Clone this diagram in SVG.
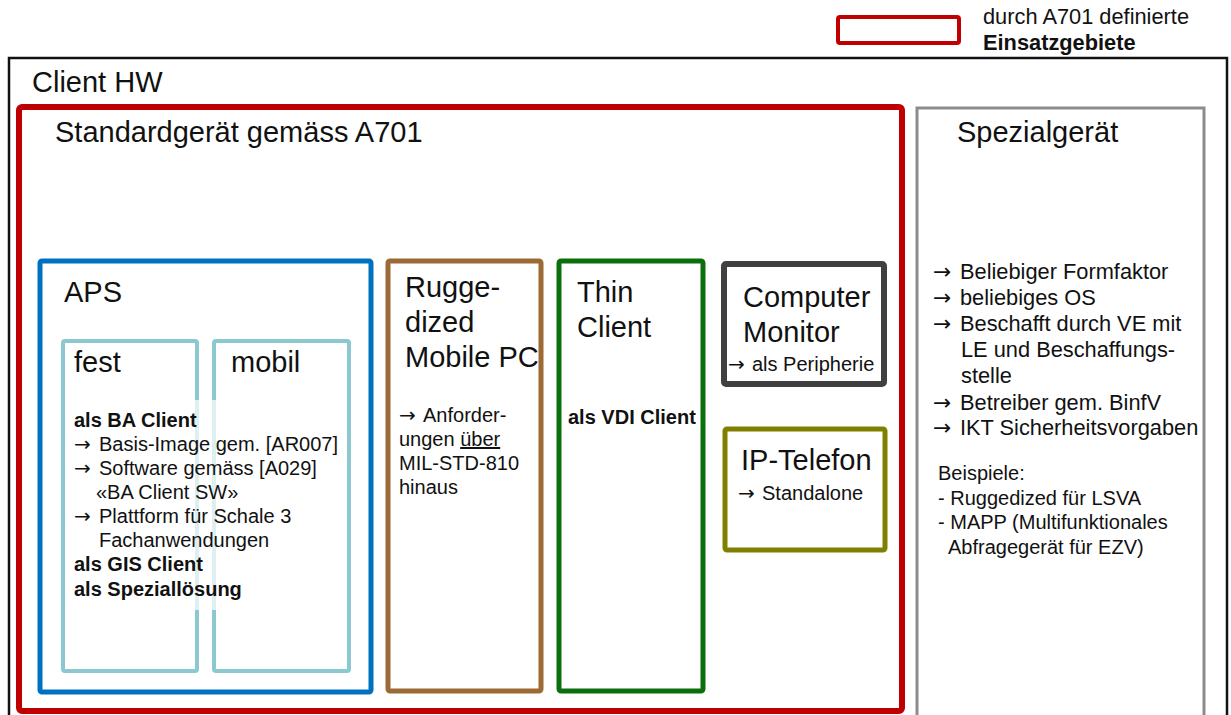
<svg xmlns="http://www.w3.org/2000/svg" width="1231" height="715" viewBox="0 0 1231 715">
  <style>
    text { font-family: "Liberation Sans", Arial, sans-serif; fill: #111; }
    .title { font-size: 29px; }
    .body { font-size: 20px; }
    .spec { font-size: 21.8px; }
    .legend { font-size: 21.8px; }
    .b { font-weight: bold; }
    .arr { font-family: "DejaVu Sans", sans-serif; }
    .box { fill: none; }
  </style>
  <rect width="1231" height="715" fill="#fff"/>

  <!-- legend -->
  <g id="legend">
    <rect x="838" y="17" width="121" height="26" rx="2" class="box" stroke="#C00000" stroke-width="4"/>
    <text class="legend" x="983" y="24">durch A701 definierte</text>
    <text class="legend b" x="983" y="50">Einsatzgebiete</text>
  </g>

  <!-- outer frame -->
  <g id="client-hw">
    <rect x="9" y="58" width="1218" height="670" class="box" stroke="#111" stroke-width="2.5"/>
    <text class="title" x="32" y="92">Client HW</text>
  </g>

  <g id="standardgeraet">
    <rect x="19" y="107" width="883" height="604" rx="3" class="box" stroke="#C00000" stroke-width="6"/>
    <text class="title" x="55" y="142">Standardgerät gemäss A701</text>
  </g>

  <g id="spezialgeraet">
    <rect x="917" y="108" width="287" height="620" class="box" stroke="#8C8C8C" stroke-width="3"/>
    <text class="title" x="957" y="142">Spezialgerät</text>
    <text class="spec" x="933" y="279"><tspan class="arr">→</tspan><tspan x="960">Beliebiger Formfaktor</tspan></text>
    <text class="spec" x="933" y="305"><tspan class="arr">→</tspan><tspan x="960">beliebiges OS</tspan></text>
    <text class="spec" x="933" y="331"><tspan class="arr">→</tspan><tspan x="960">Beschafft durch VE mit</tspan></text>
    <text class="spec" x="961" y="357">LE und Beschaffungs-</text>
    <text class="spec" x="961" y="383">stelle</text>
    <text class="spec" x="933" y="410"><tspan class="arr">→</tspan><tspan x="960">Betreiber gem. BinfV</tspan></text>
    <text class="spec" x="933" y="435"><tspan class="arr">→</tspan><tspan x="960">IKT Sicherheitsvorgaben</tspan></text>
    <text class="body" x="938" y="480">Beispiele:</text>
    <text class="body" x="938" y="505">- Ruggedized für LSVA</text>
    <text class="body" x="938" y="529">- MAPP (Multifunktionales</text>
    <text class="body" x="948" y="554">Abfragegerät für EZV)</text>
  </g>

  <g id="aps">
    <rect x="40" y="261" width="331" height="431" rx="2" class="box" stroke="#0070C0" stroke-width="5"/>
    <text class="title" x="64" y="302">APS</text>
  </g>

  <g id="fest">
    <rect x="63" y="341" width="134" height="330" rx="2" class="box" stroke="#8CC8D0" stroke-width="4"/>
    <text class="title" x="74" y="372">fest</text>
  </g>

  <g id="mobil">
    <rect x="214" y="341" width="135" height="330" rx="2" class="box" stroke="#8CC8D0" stroke-width="4"/>
    <text class="title" x="231" y="372">mobil</text>
  </g>

  <!-- shared APS description, on a translucent backing -->
  <g id="aps-text">
    <rect x="67" y="400" width="273" height="210" fill="#fff" fill-opacity="0.7"/>
    <text class="body b" x="74" y="427">als BA Client</text>
    <text class="body" x="74" y="451"><tspan class="arr">→</tspan><tspan x="99">Basis-Image gem. [AR007]</tspan></text>
    <text class="body" x="74" y="475"><tspan class="arr">→</tspan><tspan x="99">Software gemäss [A029]</tspan></text>
    <text class="body" x="96" y="499">«BA Client SW»</text>
    <text class="body" x="74" y="523"><tspan class="arr">→</tspan><tspan x="99">Plattform für Schale 3</tspan></text>
    <text class="body" x="99" y="547">Fachanwendungen</text>
    <text class="body b" x="74" y="571">als GIS Client</text>
    <text class="body b" x="74" y="596">als Speziallösung</text>
  </g>

  <g id="ruggedized">
    <rect x="388" y="261" width="153" height="430" rx="2" class="box" stroke="#9C6A35" stroke-width="5"/>
    <text class="title" x="405" y="297">Rugge-</text>
    <text class="title" x="405" y="332">dized</text>
    <text class="title" x="405" y="367">Mobile PC</text>
    <text class="body" x="399" y="422"><tspan class="arr">→</tspan><tspan x="423">Anforder-</tspan></text>
    <text class="body" x="399" y="446">ungen <tspan text-decoration="underline">über</tspan></text>
    <text class="body" x="399" y="470">MIL-STD-810</text>
    <text class="body" x="399" y="494">hinaus</text>
  </g>

  <g id="thin-client">
    <rect x="559" y="261" width="144" height="430" rx="2" class="box" stroke="#0B700B" stroke-width="5"/>
    <text class="title" x="577" y="302">Thin</text>
    <text class="title" x="577" y="337">Client</text>
    <text class="body b" x="568" y="424">als VDI Client</text>
  </g>

  <g id="monitor">
    <rect x="724" y="264" width="160" height="120" rx="2" class="box" stroke="#404040" stroke-width="6"/>
    <text class="title" x="743" y="307">Computer</text>
    <text class="title" x="743" y="342">Monitor</text>
    <text class="body" x="728" y="371"><tspan class="arr">→</tspan><tspan x="752">als Peripherie</tspan></text>
  </g>

  <g id="ip-telefon">
    <rect x="725" y="429" width="160" height="121" rx="2" class="box" stroke="#808000" stroke-width="5"/>
    <text class="title" x="741" y="470">IP-Telefon</text>
    <text class="body" x="738" y="500"><tspan class="arr">→</tspan><tspan x="762">Standalone</tspan></text>
  </g>

  <g id="connectors"></g>
</svg>
